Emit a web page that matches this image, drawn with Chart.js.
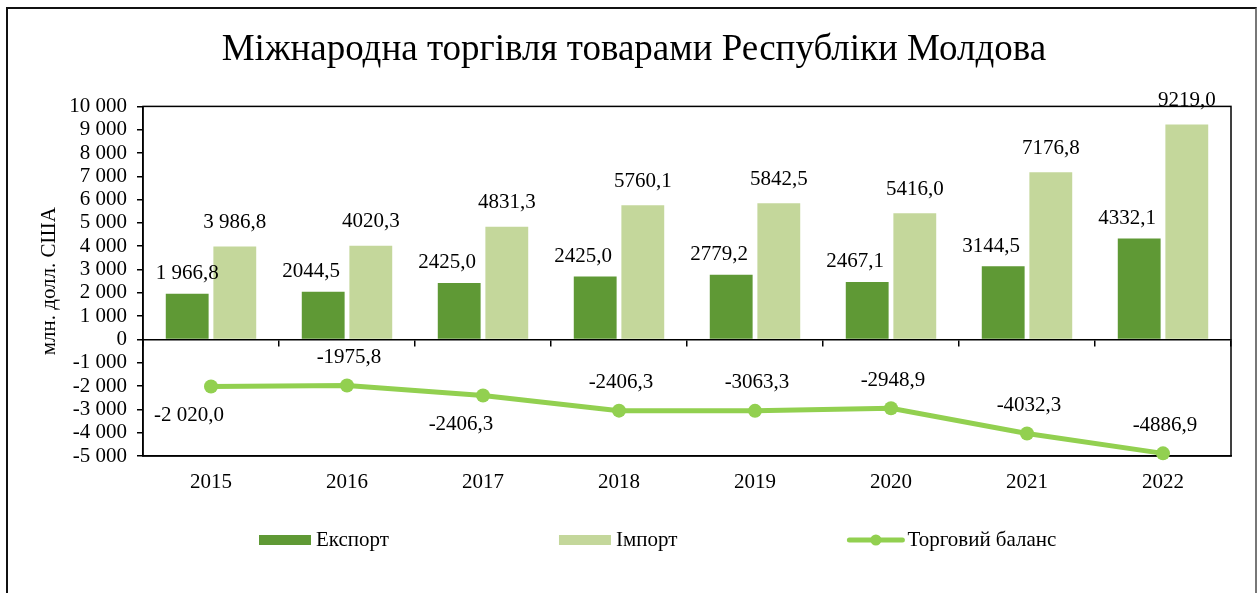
<!DOCTYPE html>
<html>
<head>
<meta charset="utf-8">
<script src="https://cdn.jsdelivr.net/npm/chart.js@4.4.1/dist/chart.umd.min.js"></script>
<style>
  html, body { margin: 0; padding: 0; background: #fff; overflow: hidden; }
  #wrap { position: relative; width: 1260px; height: 593px; }
  #frame { position: absolute; left: 6px; top: 7px; width: 1247px; height: 600px;
           border-left: 2px solid #111; border-top: 2px solid #111; border-right: 2px solid #777; }
  canvas { position: absolute; left: 0; top: 0; }
</style>
</head>
<body>
<div id="wrap">
  <div id="frame"></div>
  <canvas id="myChart" width="1260" height="593"></canvas>
</div>
<script>
// data
const years = ['2015', '2016', '2017', '2018', '2019', '2020', '2021', '2022'];
const exportValues = [1966.8, 2044.5, 2425.0, 2706.7, 2779.2, 2467.1, 3144.5, 4332.1];
const importValues = [3986.8, 4020.3, 4831.3, 5760.1, 5842.5, 5416.0, 7176.8, 9219.0];
const balanceValues = [-2020.0, -1975.8, -2406.3, -3053.4, -3063.3, -2948.9, -4032.3, -4886.9];

// label texts as printed on the chart
const exportLabels = ['1 966,8', '2044,5', '2425,0', '2425,0', '2779,2', '2467,1', '3144,5', '4332,1'];
const importLabels = ['3 986,8', '4020,3', '4831,3', '5760,1', '5842,5', '5416,0', '7176,8', '9219,0'];
const balanceLabels = ['-2 020,0', '-1975,8', '-2406,3', '-2406,3', '-3063,3', '-2948,9', '-4032,3', '-4886,9'];
const balanceLabelBelow = [true, false, true, false, false, false, false, false];

const FONT = "'Liberation Serif', 'Times New Roman', serif";
Chart.defaults.font.family = FONT;
Chart.defaults.color = '#000';

function fmtTick(v) {
  const s = String(Math.abs(v)).replace(/\B(?=(\d{3})+(?!\d))/g, ' ');
  return (v < 0 ? '-' : '') + s;
}

// frame around plot area (top + right edges)
const plotFrame = {
  id: 'plotFrame',
  beforeDatasetsDraw(chart) {
    const a = chart.chartArea, ctx = chart.ctx;
    ctx.save();
    ctx.strokeStyle = '#000';
    ctx.lineWidth = 1.5;
    ctx.strokeRect(a.left, a.top, a.right - a.left, a.bottom - a.top);
    ctx.restore();
  }
};

// value labels
const valueLabels = {
  id: 'valueLabels',
  afterDatasetsDraw(chart) {
    const ctx = chart.ctx;
    ctx.save();
    ctx.font = '21px ' + FONT;
    ctx.fillStyle = '#000';
    ctx.textAlign = 'center';
    ctx.textBaseline = 'middle';
    chart.data.datasets.forEach((ds, i) => {
      chart.getDatasetMeta(i).data.forEach((el, j) => {
        const t = ds.texts[j];
        if (ds.type === 'line') {
          if (balanceLabelBelow[j]) ctx.fillText(t, el.x - 22, el.y + 29);
          else ctx.fillText(t, el.x + 2, el.y - 28);
        } else if (ds.label === 'Експорт') {
          ctx.fillText(t, el.x - (j === 0 ? 0 : 12), el.y - 20);
        } else {
          ctx.fillText(t, el.x, el.y - 24);
        }
      });
    });
    ctx.restore();
  }
};

// legend under the axis
const bottomLegend = {
  id: 'bottomLegend',
  afterDraw(chart) {
    const ctx = chart.ctx;
    const y = 540;
    let x = chart.chartArea.left + 116;
    ctx.save();
    ctx.font = '21px ' + FONT;
    ctx.textBaseline = 'middle';
    ctx.textAlign = 'left';
    chart.data.datasets.forEach(ds => {
      if (ds.type === 'line') {
        ctx.strokeStyle = ds.borderColor;
        ctx.lineWidth = 5;
        ctx.lineCap = 'round';
        ctx.beginPath();
        ctx.moveTo(x + 2, y);
        ctx.lineTo(x + 55, y);
        ctx.stroke();
        ctx.fillStyle = ds.borderColor;
        ctx.beginPath();
        ctx.arc(x + 28.5, y, 5.5, 0, Math.PI * 2);
        ctx.fill();
        x += 60;
      } else {
        ctx.fillStyle = ds.backgroundColor;
        ctx.fillRect(x, y - 5, 52, 10);
        x += 57;
      }
      ctx.fillStyle = '#000';
      ctx.fillText(ds.label, x, y);
      x += ctx.measureText(ds.label).width + 170;
    });
    ctx.restore();
  }
};

const data = {
  labels: years,
  datasets: [
    {
      type: 'bar',
      label: 'Експорт',
      data: exportValues,
      texts: exportLabels,
      backgroundColor: '#5F9935',
      categoryPercentage: 0.7,
      barPercentage: 0.9,
      order: 1,
      xAxisID: 'x',
      yAxisID: 'y'
    },
    {
      type: 'bar',
      label: 'Імпорт',
      data: importValues,
      texts: importLabels,
      backgroundColor: '#C4D79B',
      categoryPercentage: 0.7,
      barPercentage: 0.9,
      order: 1,
      xAxisID: 'x',
      yAxisID: 'y'
    },
    {
      type: 'line',
      label: 'Торговий баланс',
      data: balanceValues,
      texts: balanceLabels,
      borderColor: '#92D050',
      backgroundColor: '#92D050',
      borderWidth: 5,
      pointRadius: 7,
      pointBackgroundColor: '#92D050',
      pointBorderWidth: 0,
      tension: 0,
      clip: false,
      order: 0,
      xAxisID: 'x',
      yAxisID: 'y'
    }
  ]
};

const config = {
  type: 'bar',
  data,
  options: {
    responsive: false,
    animation: false,
    devicePixelRatio: 1,
    layout: { padding: { left: 37, right: 29, top: 10, bottom: 80 } },
    plugins: {
      legend: { display: false },
      tooltip: { enabled: false },
      title: {
        display: true,
        text: 'Міжнародна торгівля товарами Республіки Молдова',
        color: '#000',
        font: { size: 37, weight: 'normal', family: FONT },
        padding: { top: 18, bottom: 34 }
      }
    },
    scales: {
      x: {
        type: 'category',
        position: 'bottom',
        offset: true,
        grid: { display: false },
        border: { display: true, color: '#000', width: 1.5 },
        ticks: { font: { size: 21 }, color: '#000', padding: 6, maxRotation: 0 },
        afterFit: s => { s.height = 57; }
      },
      x0: {
        type: 'category',
        position: { y: 0 },
        offset: true,
        grid: { offset: true, drawOnChartArea: false, drawTicks: true, tickLength: 6, color: '#000', lineWidth: 1.5 },
        border: { display: true, color: '#000', width: 1.5 },
        ticks: { display: false }
      },
      y: {
        min: -5000,
        max: 10000,
        ticks: { stepSize: 1000, autoSkip: false, font: { size: 21 }, color: '#000', padding: 10, callback: v => fmtTick(v) },
        grid: { drawOnChartArea: false, drawTicks: true, tickLength: 6, color: '#000', lineWidth: 1.5 },
        border: { display: true, color: '#000', width: 1.5 },
        title: { display: true, text: 'млн. долл. США', font: { size: 21 }, color: '#000', padding: { top: 0, bottom: 0 } },
        afterFit: s => { s.width = 106; }
      }
    }
  },
  plugins: [plotFrame, valueLabels, bottomLegend]
};

const myChart = new Chart(document.getElementById('myChart'), config);
</script>
</body>
</html>
